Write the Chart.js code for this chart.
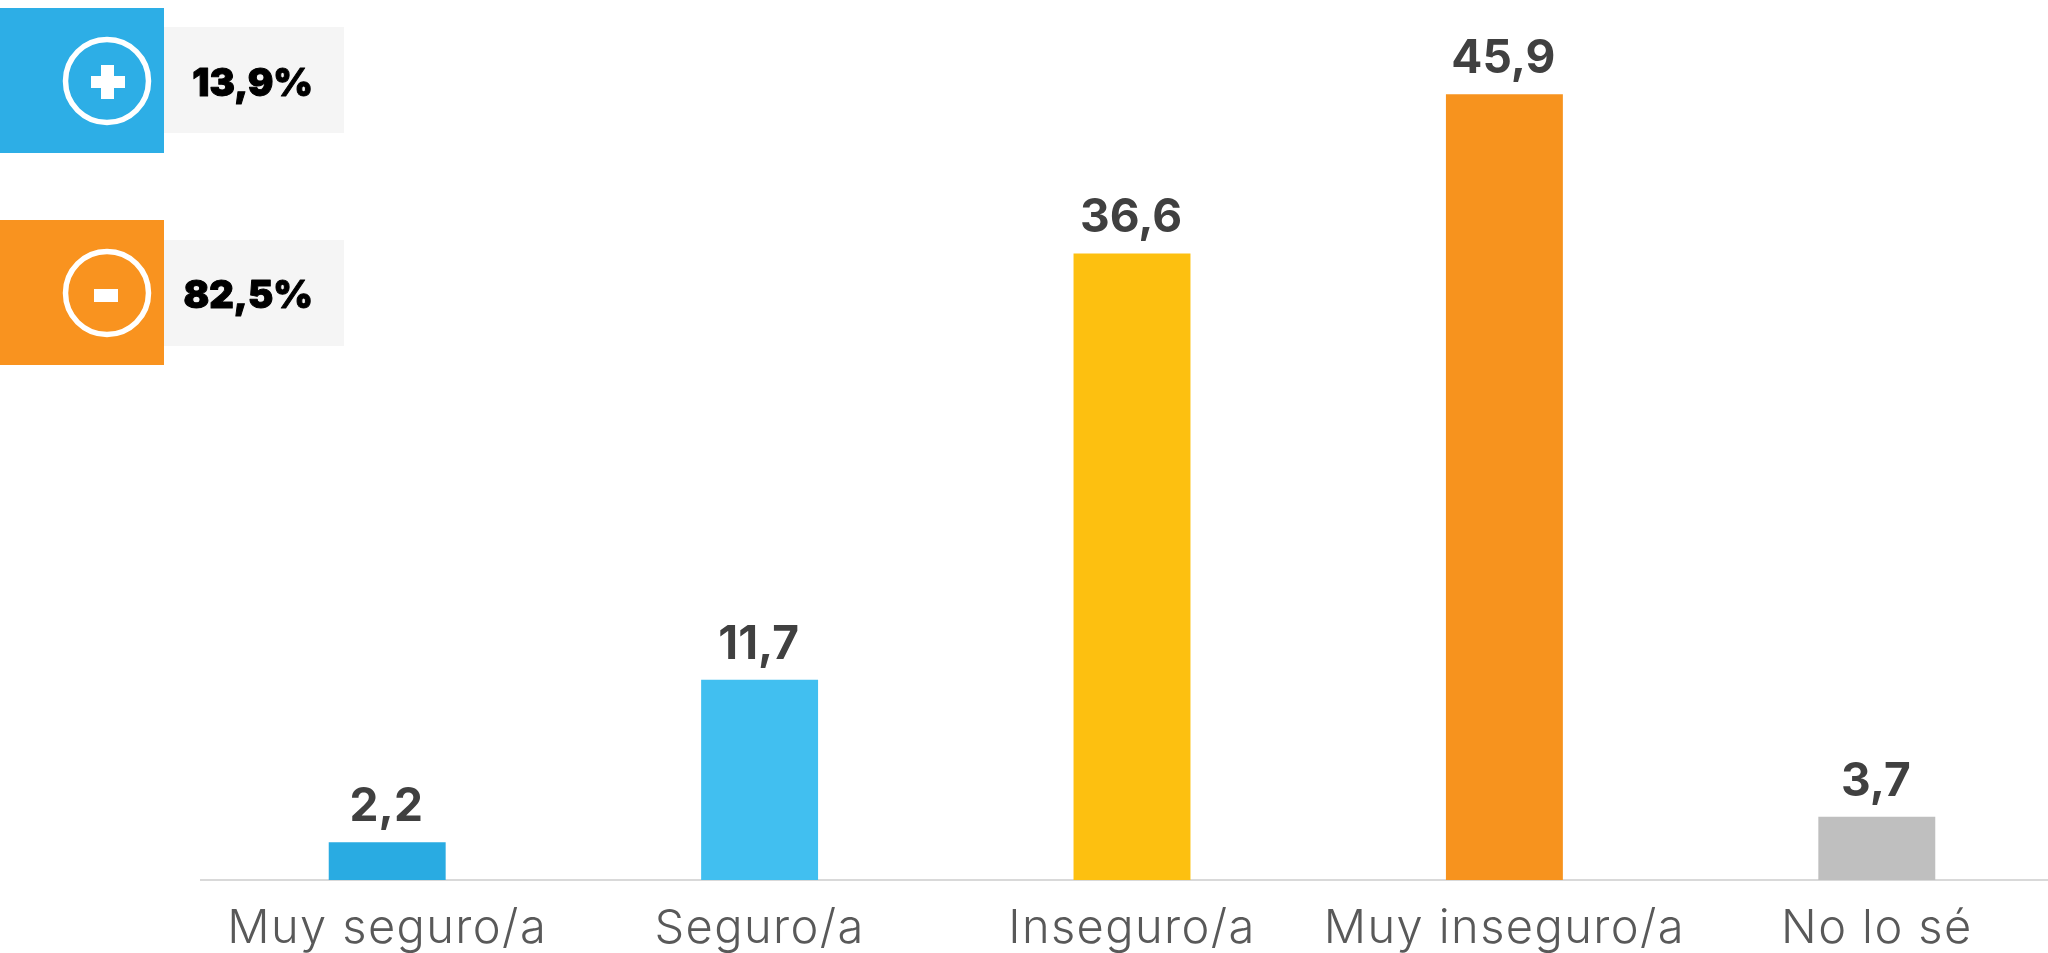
<!DOCTYPE html>
<html>
<head>
<meta charset="utf-8">
<style>html,body{margin:0;padding:0;background:#fff;overflow:hidden}#w{position:absolute;left:0;top:0;width:2048px;height:953px;overflow:hidden}</style>
<script src="https://cdn.jsdelivr.net/npm/chart.js@4/dist/chart.umd.min.js"></script>
</head>
<body>
<div id="w"><canvas id="c" width="2063" height="953"></canvas></div>
<script>
const categories = ["Muy seguro/a","Seguro/a","Inseguro/a","Muy inseguro/a","No lo sé"];
const values = [2.2,11.7,36.6,45.9,3.7];
const barColors = ["#29ABE2","#41BFF0","#FDC010","#F7931E","#BFBFBF"];
const summaryLabels = ["13,9%","82,5%"];
const summaryColors = ["#2DAEE6","#F9931F"];
const summarySigns = ["+","-"];

const fmt = v => v.toFixed(1).replace(".",",");

const tickSpacing = {
  id:"tickSpacing",
  beforeDraw(chart){ chart.ctx.letterSpacing = "1.4px"; }
};
const barLabels = {
  id:"barLabels",
  afterDatasetsDraw(chart){
    const {ctx} = chart;
    const meta = chart.getDatasetMeta(0);
    ctx.save();
    ctx.letterSpacing = "0px";
    ctx.font = "700 46px Inter";
    ctx.fillStyle = "#404040";
    ctx.textAlign = "center";
    ctx.textBaseline = "alphabetic";
    meta.data.forEach((b,i)=>ctx.fillText(fmt(values[i]), b.x-1, b.y-21));
    ctx.restore();
  }
};
const summary = {
  id:"summary",
  afterDraw(chart){
    const {ctx} = chart;
    const tops = [8,220];
    const greyTops = [27,240];
    summaryLabels.forEach((t,i)=>{
      const y = tops[i];
      ctx.save();
      ctx.letterSpacing = "0px";
      ctx.fillStyle = "#F5F5F5";
      ctx.fillRect(164,greyTops[i],180,106);
      ctx.fillStyle = summaryColors[i];
      ctx.fillRect(0,y,164,145);
      ctx.strokeStyle = "#fff";
      ctx.lineWidth = 5.5;
      ctx.beginPath();
      ctx.arc(107,y+73,41.5,0,Math.PI*2);
      ctx.stroke();
      ctx.fillStyle = "#fff";
      if(summarySigns[i]==="+"){
        ctx.fillRect(91,y+68,34,12);
        ctx.fillRect(101,y+57,13,34);
      } else {
        ctx.fillRect(94,y+69,24,13);
      }
      ctx.font = "900 38px Inter";
      ctx.fillStyle = "#000";
      ctx.strokeStyle = "#000";
      ctx.lineWidth = 1;
      ctx.lineJoin = "round";
      ctx.textAlign = "right";
      ctx.textBaseline = "alphabetic";
      ctx.strokeText(t,313,y+88);
      ctx.fillText(t,313,y+88);
      ctx.restore();
    });
  }
};

new Chart(document.getElementById("c"),{
  type:"bar",
  data:{labels:categories,datasets:[{data:values,backgroundColor:barColors,borderWidth:0,barPercentage:0.314,categoryPercentage:1}]},
  plugins:[tickSpacing,barLabels,summary],
  options:{
    responsive:false,animation:false,
    layout:{padding:{left:201,right:0,top:0,bottom:0}},
    plugins:{legend:{display:false},tooltip:{enabled:false},title:{display:false}},
    scales:{
      x:{
        afterFit(s){s.height=73;},
        grid:{display:false,drawTicks:false},
        border:{color:"#D9D9D9",width:2},
        ticks:{color:"#595959",font:{family:"Inter",size:47,weight:"300"},padding:21,maxRotation:0,autoSkip:false}
      },
      y:{display:false,min:0,max:51.4}
    }
  }
});
</script>
</body>
</html>
